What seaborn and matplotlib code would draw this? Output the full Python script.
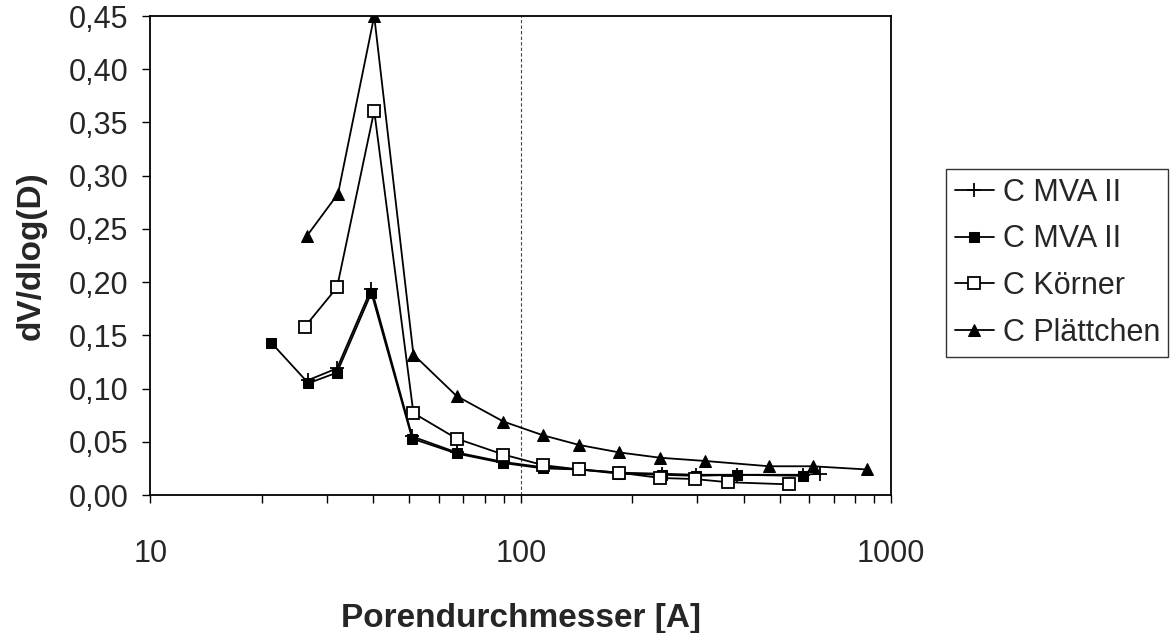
import matplotlib
matplotlib.use("Agg")
import matplotlib.pyplot as plt
import matplotlib.ticker as mticker
import seaborn as sns

# Porendurchmesser [A] and dV/dlog(D) per sample
mva_plus_x = [26.7, 31.9, 39.5, 50.9, 67.1, 89.8, 115.1, 143.9, 184.5, 240, 298, 383, 577, 643]
mva_plus_y = [0.108, 0.119, 0.194, 0.055, 0.040, 0.031, 0.026, 0.024, 0.021, 0.020, 0.019, 0.019, 0.019, 0.020]

mva_sq_x = [21.2, 26.7, 31.9, 39.5, 50.9, 67.1, 89.8, 115.1, 143.9, 184.5, 240, 298, 383, 577]
mva_sq_y = [0.143, 0.105, 0.115, 0.190, 0.053, 0.039, 0.030, 0.025, 0.024, 0.020, 0.019, 0.018, 0.019, 0.018]

koerner_x = [26.1, 31.9, 40.2, 51.3, 67.1, 89.8, 115.1, 143.9, 184.5, 238, 295, 363, 531]
koerner_y = [0.158, 0.195, 0.361, 0.077, 0.053, 0.038, 0.028, 0.024, 0.021, 0.016, 0.015, 0.012, 0.010]

plaett_x = [26.4, 32.1, 40.2, 51.3, 67.1, 89.8, 115.1, 143.9, 184.5, 238, 314, 469, 614, 859]
plaett_y = [0.243, 0.283, 0.450, 0.132, 0.093, 0.069, 0.056, 0.047, 0.040, 0.035, 0.032, 0.027, 0.027, 0.024]

series_labels = ["C MVA II", "C MVA II", "C Körner", "C Plättchen"]

sns.set_style("white")
plt.rcParams["font.family"] = ["Liberation Sans", "DejaVu Sans"]

fig = plt.figure(figsize=(11.73, 6.33), dpi=100)
ax = fig.add_axes([0.1283, 0.218, 0.6313, 0.7567])

common = dict(color="black", linewidth=1.3, sort=False, ax=ax, estimator=None)
sns.lineplot(x=mva_plus_x, y=mva_plus_y, marker="+", markersize=10, markeredgewidth=1.3,
             markeredgecolor="black", label=series_labels[0], **common)
sns.lineplot(x=mva_sq_x, y=mva_sq_y, marker="s", markersize=7, markerfacecolor="black",
             markeredgecolor="black", label=series_labels[1], **common)
sns.lineplot(x=koerner_x, y=koerner_y, marker="s", markersize=8, markerfacecolor="white",
             markeredgecolor="black", markeredgewidth=1.3, label=series_labels[2], **common)
sns.lineplot(x=plaett_x, y=plaett_y, marker="^", markersize=8.5, markerfacecolor="black",
             markeredgecolor="black", label=series_labels[3], **common)

ax.axvline(100, color="#444444", linestyle=(0, (3, 2)), linewidth=0.8, zorder=0)

ax.set_xscale("log")
ax.set_xlim(10, 1000)
ax.set_ylim(0, 0.45)
ax.set_yticks([i * 0.05 for i in range(10)])
ax.yaxis.set_major_formatter(mticker.FuncFormatter(lambda v, p: f"{v:.2f}".replace(".", ",")))
ax.xaxis.set_major_formatter(mticker.FuncFormatter(lambda v, p: f"{v:g}"))
ax.xaxis.set_minor_formatter(mticker.NullFormatter())
ax.tick_params(axis="both", which="both", direction="out", color="black", width=1, labelsize=22)
ax.tick_params(axis="x", which="both", length=6, bottom=True, pad=26)
ax.tick_params(axis="y", which="major", length=6, left=True, pad=10)

for s in ax.spines.values():
    s.set_color("black")
    s.set_linewidth(1.3)

ax.set_xlabel("Porendurchmesser [A]", fontsize=24, fontweight="bold", labelpad=24)
ax.set_ylabel("dV/dlog(D)", fontsize=24, fontweight="bold", labelpad=16)

leg = ax.legend(loc="upper left", bbox_to_anchor=(946 / 1173, 1 - 169 / 633), bbox_transform=fig.transFigure,
                fontsize=22, frameon=True, fancybox=False, edgecolor="black",
                handlelength=1.3, handletextpad=0.27, borderpad=0.28, labelspacing=0.55,
                borderaxespad=0)
leg.get_frame().set_linewidth(1.0)

fig.savefig("out.png", dpi=100, facecolor="white")
